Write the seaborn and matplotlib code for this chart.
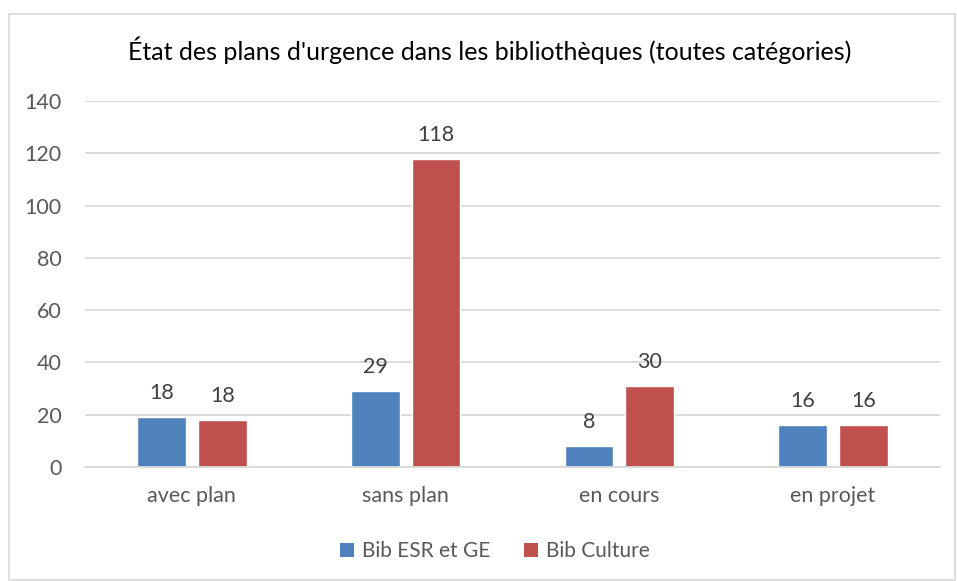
import pandas as pd
import seaborn as sns
import matplotlib.pyplot as plt
from matplotlib.patches import Rectangle, Patch

# valeurs
categories = ['avec plan', 'sans plan', 'en cours', 'en projet']
series = ['Bib ESR et GE', 'Bib Culture']
esr_values = [19, 29, 8, 16]
culture_values = [18, 118, 31, 16]
# étiquettes affichées (diffèrent un peu des hauteurs dans l'original)
esr_labels = ['18', '29', '8', '16']
culture_labels = ['18', '118', '30', '16']
colors = ['#4F81BD', '#C0504D']

df = pd.DataFrame({
    'categorie': categories * 2,
    'serie': [series[0]] * 4 + [series[1]] * 4,
    'valeur': esr_values + culture_values,
})

sns.set_style('white')
plt.rcParams['font.family'] = ['Lato', 'DejaVu Sans']

fig = plt.figure(figsize=(9.57, 5.81), dpi=100)
ax = fig.add_axes([85 / 957, 1 - 467 / 581, 855 / 957, 366 / 581])

sns.barplot(data=df, x='categorie', y='valeur', hue='serie', palette=colors,
            width=0.57, gap=0.2, ax=ax, legend=False, saturation=1)

for cont, labs in zip(ax.containers, [esr_labels, culture_labels]):
    ax.bar_label(cont, labels=labs, padding=10, fontsize=15.5, color='#404040')

ax.set_ylim(0, 140)
ax.set_yticks(range(0, 141, 20))
ax.set_xlim(-0.5, 3.5)
ax.grid(axis='y', color='#D9D9D9', linewidth=1.3)
ax.set_axisbelow(True)
for s in ['top', 'right', 'left']:
    ax.spines[s].set_visible(False)
ax.spines['bottom'].set_color('#D9D9D9')
ax.spines['bottom'].set_linewidth(1.3)
ax.tick_params(axis='y', length=0, pad=17, labelsize=15.5, labelcolor='#595959')
ax.tick_params(axis='x', length=0, pad=14, labelsize=15.5, labelcolor='#595959')
ax.set_xlabel('')
ax.set_ylabel('')

fig.text(490 / 957, 1 - 50 / 581, "État des plans d'urgence dans les bibliothèques (toutes catégories)",
         ha='center', va='center', fontsize=18, color='#000000')

handles = [Patch(facecolor=c, edgecolor='none') for c in colors]
fig.legend(handles, series, loc='center', bbox_to_anchor=(495 / 957, 1 - 551 / 581), ncol=2,
           frameon=False, fontsize=15, labelcolor='#595959', handlelength=0.65,
           handleheight=0.65, handletextpad=0.4, columnspacing=1.6)

fig.patches.append(Rectangle((9 / 957, 0.002), 1 - 9 / 957 - 0.002, 1 - 14 / 581 - 0.002,
                             transform=fig.transFigure, fill=False,
                             edgecolor='#D9D9D9', linewidth=1.2))

fig.savefig('out.png', dpi=100)
